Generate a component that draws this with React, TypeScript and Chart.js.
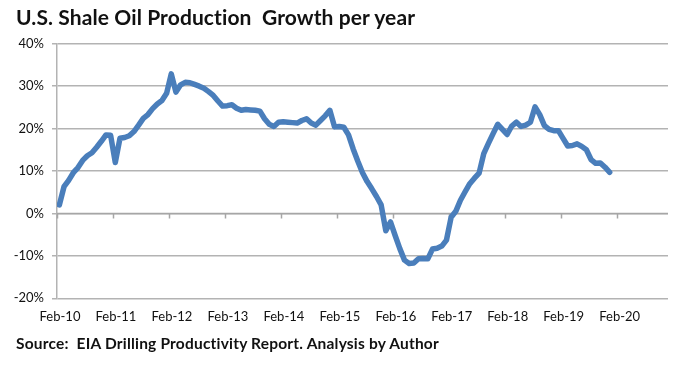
import React, { useEffect, useRef } from "react";
import { Chart, registerables } from "chart.js";

Chart.register(...registerables);

// Year-over-year growth of U.S. shale oil production, monthly Feb-10 .. Dec-19 (%)
const growth2010: number[] = [2.0, 6.3, 7.8, 9.6, 10.8, 12.5, 13.6, 14.3, 15.6, 17.0, 18.5, 18.4];
const growth2011: number[] = [12.0, 17.7, 17.9, 18.3, 19.3, 20.8, 22.4, 23.3, 24.7, 25.8, 26.6, 28.3];
const growth2012: number[] = [32.9, 28.6, 30.3, 30.9, 30.8, 30.4, 30.0, 29.5, 28.7, 27.8, 26.5, 25.3];
const growth2013: number[] = [25.4, 25.6, 24.8, 24.3, 24.5, 24.4, 24.3, 24.1, 22.3, 21.0, 20.5, 21.5];
const growth2014: number[] = [21.6, 21.5, 21.4, 21.3, 21.9, 22.3, 21.3, 20.8, 21.9, 23.0, 24.3, 20.4];
const growth2015: number[] = [20.5, 20.3, 18.5, 15.2, 12.3, 9.6, 7.5, 5.8, 4.0, 2.0, -4.1, -2.0];
const growth2016: number[] = [-5.2, -8.3, -11.0, -11.8, -11.7, -10.7, -10.6, -10.7, -8.4, -8.2, -7.7, -6.3];
const growth2017: number[] = [-0.9, 0.5, 3.1, 5.1, 7.0, 8.3, 9.5, 14.1, 16.5, 18.8, 21.0, 19.8];
const growth2018: number[] = [18.6, 20.6, 21.5, 20.5, 20.8, 21.5, 25.1, 23.3, 20.7, 19.8, 19.5, 19.5];
const growth2019: number[] = [17.7, 15.9, 16.0, 16.4, 15.8, 15.0, 12.7, 11.8, 11.9, 10.9, 9.7];

const growthValues: number[] = [
  ...growth2010, ...growth2011, ...growth2012, ...growth2013, ...growth2014,
  ...growth2015, ...growth2016, ...growth2017, ...growth2018, ...growth2019,
];

const xTickLabels: string[] = [
  "Feb-10", "Feb-11", "Feb-12", "Feb-13", "Feb-14", "Feb-15",
  "Feb-16", "Feb-17", "Feb-18", "Feb-19", "Feb-20",
];
const monthsPerTick = 12;
const totalCategories = 131;

const yMin = -20;
const yMax = 40;
const yStep = 10;

const titleText = "U.S. Shale Oil Production  Growth per year";
const sourceText = "Source:  EIA Drilling Productivity Report. Analysis by Author";

const GRID = "#b3b3b3";
const LINE = "#4a7ebb";
const TEXT = "#111111";

const zeroAxisPlugin = {
  id: "zeroAxis",
  beforeDatasetsDraw(chart: any) {
    const { ctx, chartArea, scales } = chart;
    const x = scales.x;
    const y = scales.y;
    const y0 = y.getPixelForValue(0);
    ctx.save();
    ctx.strokeStyle = "#a6a6a6";
    ctx.lineWidth = 1.5;
    ctx.beginPath();
    ctx.moveTo(chartArea.left, y0);
    ctx.lineTo(chartArea.right, y0);
    for (const t of x.ticks) {
      const px = Math.round(x.getPixelForValue(t.value)) + 0.5;
      ctx.moveTo(px, y0);
      ctx.lineTo(px, y0 + 5);
    }
    ctx.stroke();
    ctx.restore();
  },
};

export default function App() {
  const canvasRef = useRef<HTMLCanvasElement | null>(null);

  useEffect(() => {
    const canvas = canvasRef.current;
    if (!canvas) return;
    const points = growthValues.map((v, i) => ({ x: i + 0.5, y: v }));
    const chart = new Chart(canvas, {
      type: "line",
      data: {
        datasets: [
          {
            data: points,
            borderColor: LINE,
            backgroundColor: LINE,
            borderWidth: 5.5,
            pointRadius: 0,
            tension: 0,
            borderJoinStyle: "round",
            borderCapStyle: "round",
          },
        ],
      },
      options: {
        responsive: false,
        animation: false,
        layout: { padding: { left: 0, top: 43.7, right: 12, bottom: 38.7 } },
        plugins: { legend: { display: false }, tooltip: { enabled: false } },
        scales: {
          x: {
            type: "linear",
            min: 0,
            max: totalCategories,
            grid: { display: false, drawTicks: false },
            border: { display: false },
            afterBuildTicks: (scale: any) => {
              scale.ticks = xTickLabels.map((_, k) => ({ value: k * monthsPerTick }));
            },
            afterFit: (scale: any) => {
              scale.height = 30;
            },
            ticks: {
              autoSkip: false,
              maxRotation: 0,
              padding: 11,
              labelOffset: 3,
              color: TEXT,
              font: { family: "Lato", size: 13 },
              callback: (v: any) => xTickLabels[Math.round(Number(v) / monthsPerTick)] ?? "",
            },
          },
          y: {
            min: yMin,
            max: yMax,
            grid: { color: GRID, lineWidth: 1.5, tickLength: 5, drawTicks: true },
            border: { display: true, color: GRID, width: 1.5 },
            afterFit: (scale: any) => {
              scale.width = 57;
            },
            ticks: {
              stepSize: yStep,
              padding: 8,
              color: TEXT,
              font: { family: "Lato", size: 13 },
              callback: (v: any) => `${v}%`,
            },
          },
        },
      },
      plugins: [zeroAxisPlugin],
    });
    return () => chart.destroy();
  }, []);

  return (
    <div
      style={{
        position: "fixed",
        left: 0,
        top: 0,
        width: 680,
        height: 367,
        background: "#ffffff",
        overflow: "hidden",
      }}
    >
      <canvas
        ref={canvasRef}
        width={680}
        height={367}
        style={{ position: "absolute", left: 0, top: 0, width: 680, height: 367 }}
      />
      <div
        style={{
          position: "absolute",
          left: 16,
          top: 3,
          fontFamily: "Lato, sans-serif",
          fontWeight: 700,
          fontSize: 21,
          letterSpacing: "0.1px",
          lineHeight: "28px",
          color: "#111",
          whiteSpace: "pre",
        }}
      >
        {titleText}
      </div>
      <div
        style={{
          position: "absolute",
          left: 16,
          top: 333,
          fontFamily: "Lato, sans-serif",
          fontWeight: 700,
          fontSize: 15.5,
          letterSpacing: "0.2px",
          lineHeight: "20px",
          color: "#111",
          whiteSpace: "pre",
        }}
      >
        {sourceText}
      </div>
    </div>
  );
}
